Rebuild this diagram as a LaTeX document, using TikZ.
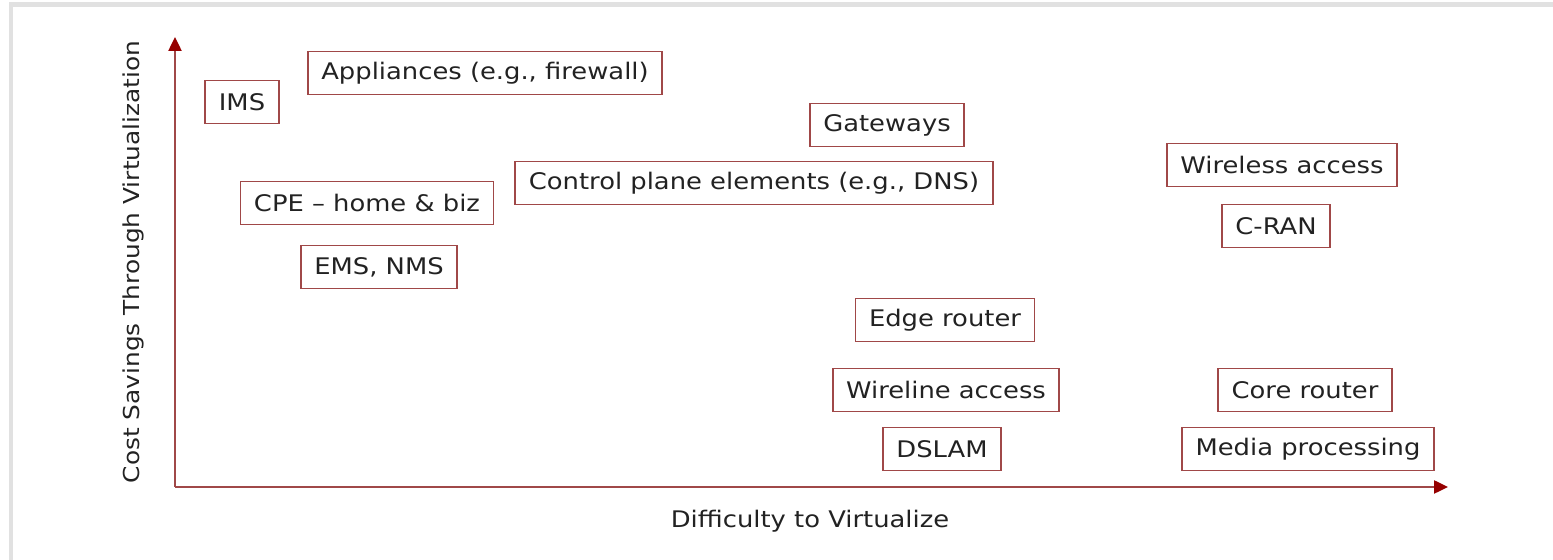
\documentclass[tikz,border=0pt]{standalone}
\usepackage{fontspec}
\setmainfont{DejaVu Sans}[FakeStretch=1.13]
\usetikzlibrary{arrows.meta}
\definecolor{boxred}{RGB}{160,72,72}
\definecolor{tipred}{RGB}{150,0,0}
\definecolor{framegray}{RGB}{225,225,225}
\definecolor{txtgray}{RGB}{34,34,34}
\tikzset{
  item/.style={draw=boxred,line width=1.1pt,fill=white,text=txtgray,
    font=\fontsize{13}{15}\selectfont,inner xsep=0.27cm,
    minimum height=0.86cm},
  axis/.style={draw=boxred,line width=1.4pt,
    -{Triangle[length=0.28cm,width=0.26cm,color=tipred]}},
  axislabel/.style={text=txtgray,font=\fontsize{13}{15}\selectfont}
}
\begin{document}
\begin{tikzpicture}[x=0.02cm,y=-0.02cm]
  \useasboundingbox (0,0) rectangle (1553,560);
  \draw[framegray,line width=0.1cm] (11,562) -- (11,5) -- (1555,5);
  \coordinate (o) at (175,487);
  \coordinate (ytip) at (175,37);
  \coordinate (xtip) at (1448,487);
  \draw[axis] (o) -- (ytip);
  \draw[axis] (o) -- (xtip);
  \node[axislabel,font=\fontsize{12.5}{15}\selectfont,rotate=90] (ylab) at (133,262) {Cost Savings Through Virtualization};
  \node[axislabel] (xlab) at (810,521) {Difficulty to Virtualize};
  \node[item] (ims) at (242,102) {IMS};
  \node[item] (appl) at (485,73) {Appliances (e.g., firewall)};
  \node[item] (gw) at (887,125) {Gateways};
  \node[item] (wless) at (1282,165) {Wireless access};
  \node[item] (cpe) at (367,203) {CPE – home \& biz};
  \node[item] (ctrl) at (754,183) {Control plane elements (e.g., DNS)};
  \node[item] (cran) at (1276,226) {C-RAN};
  \node[item] (ems) at (379,267) {EMS, NMS};
  \node[item] (edge) at (945,320) {Edge router};
  \node[item] (wline) at (946,390) {Wireline access};
  \node[item] (core) at (1305,390) {Core router};
  \node[item] (dslam) at (942,449) {DSLAM};
  \node[item] (media) at (1308,449) {Media processing};
\end{tikzpicture}
\end{document}
